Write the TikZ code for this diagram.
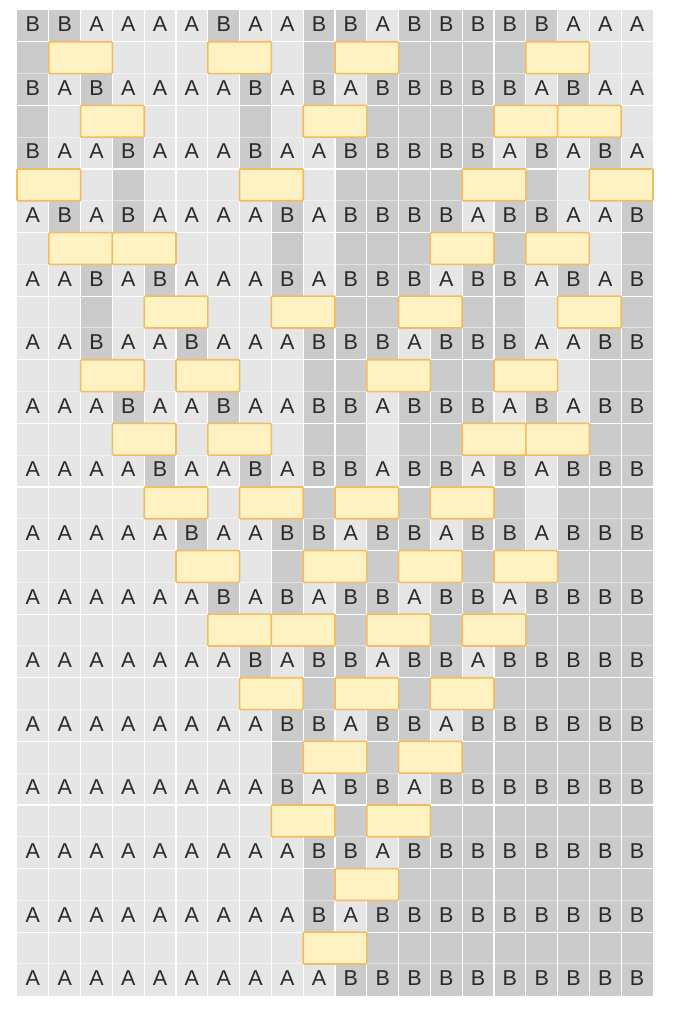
\documentclass[tikz,border=0pt]{standalone}
\usepackage{fontspec}
\setmainfont{Liberation Sans}
\usepackage{tikz}

\definecolor{cellA}{HTML}{E6E6E6}
\definecolor{cellB}{HTML}{CBCBCB}
\definecolor{swapfill}{HTML}{FFF2C2}
\definecolor{swapline}{HTML}{F2BC62}
\definecolor{inkgray}{HTML}{2A2A2A}

\tikzset{
  letter/.style={anchor=base,inner sep=0pt,text=inkgray,font=\fontsize{21.5}{21.5}\selectfont},
  swapbox/.style={fill=swapfill,draw=swapline,line width=1.6pt,rounded corners=1pt}
}

\begin{document}
\begin{tikzpicture}[x=31.8pt,y=-31.8pt]
  \useasboundingbox (-0.535,-0.314) rectangle (20.912,31.447);
  % one row of letters per round, the swap row sits under it
  \foreach \row [count=\r from 0] in {
    {B,B,A,A,A,A,B,A,A,B,B,A,B,B,B,B,B,A,A,A},
    {B,A,B,A,A,A,A,B,A,B,A,B,B,B,B,B,A,B,A,A},
    {B,A,A,B,A,A,A,B,A,A,B,B,B,B,B,A,B,A,B,A},
    {A,B,A,B,A,A,A,A,B,A,B,B,B,B,A,B,B,A,A,B},
    {A,A,B,A,B,A,A,A,B,A,B,B,B,A,B,B,A,B,A,B},
    {A,A,B,A,A,B,A,A,A,B,B,B,A,B,B,B,A,A,B,B},
    {A,A,A,B,A,A,B,A,A,B,B,A,B,B,B,A,B,A,B,B},
    {A,A,A,A,B,A,A,B,A,B,B,A,B,B,A,B,A,B,B,B},
    {A,A,A,A,A,B,A,A,B,B,A,B,B,A,B,B,A,B,B,B},
    {A,A,A,A,A,A,B,A,B,A,B,B,A,B,B,A,B,B,B,B},
    {A,A,A,A,A,A,A,B,A,B,B,A,B,B,A,B,B,B,B,B},
    {A,A,A,A,A,A,A,A,B,B,A,B,B,A,B,B,B,B,B,B},
    {A,A,A,A,A,A,A,A,B,A,B,B,A,B,B,B,B,B,B,B},
    {A,A,A,A,A,A,A,A,A,B,B,A,B,B,B,B,B,B,B,B},
    {A,A,A,A,A,A,A,A,A,B,A,B,B,B,B,B,B,B,B,B},
    {A,A,A,A,A,A,A,A,A,A,B,B,B,B,B,B,B,B,B,B}}{
    \foreach \ch [count=\c from 0] in \row {
      \ifnum\r<15 \def\h{2}\else\def\h{1}\fi
      \fill[fill=cell\ch] (\c,2*\r) rectangle ++(1,\h);
      \node[letter] (l\r-\c) at (\c+0.5,2*\r+0.68) {\ch};
    }
  }
  % white seams between the cells
  \foreach \x in {1,...,19} \draw[white,line width=1.3pt] (\x,0) -- (\x,31);
  \foreach \y in {1,3,...,29} \draw[white,line width=1.3pt] (0,\y) -- (20,\y);
  \foreach \y in {2,4,...,30} \draw[white,opacity=0.45,line width=1pt] (0,\y) -- (20,\y);
  % the swapped pairs of each round
  \foreach \cols [count=\r from 0] in {
    {1,6,10,16},{2,9,15,17},{0,7,14,18},{1,3,13,16},{4,8,12,17},
    {2,5,11,15},{3,6,14,16},{4,7,10,13},{5,9,12,15},{6,8,11,14},
    {7,10,13},{9,12},{8,11},{10},{9}}{
    \foreach \c in \cols \draw[swapbox] (\c,2*\r+1) rectangle ++(2,1);
  }
\end{tikzpicture}
\end{document}
